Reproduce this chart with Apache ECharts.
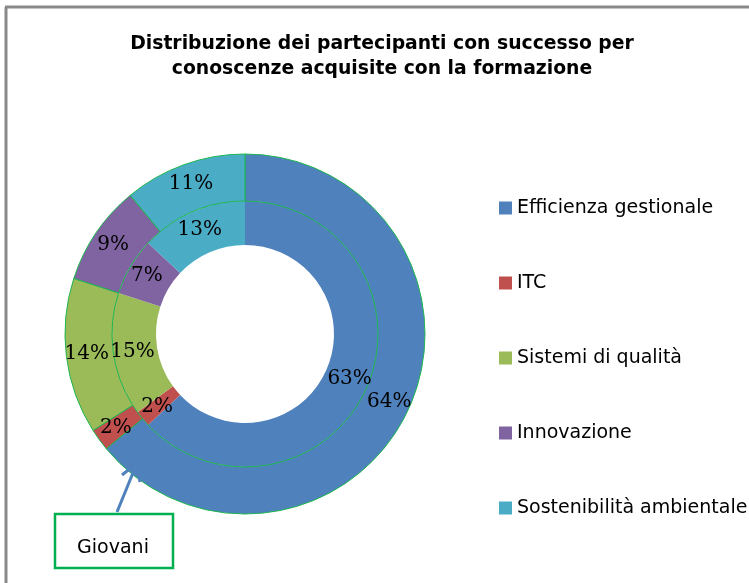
<!DOCTYPE html>
<html>
<head>
<meta charset="utf-8">
<script src="https://cdn.jsdelivr.net/npm/echarts@6/dist/echarts.min.js"></script>
<style>
html,body{margin:0;padding:0;background:#fff;}
#c{width:749px;height:583px;}
</style>
</head>
<body>
<div id="c"></div>
<script>
var categories = ['Efficienza gestionale', 'ITC', 'Sistemi di qualità', 'Innovazione', 'Sostenibilità ambientale'];
var innerValues = [63, 2, 15, 7, 13];
var outerValues = [64, 2, 14, 9, 11];
var colors = ['#4f81bd', '#c0504d', '#9bbb59', '#8064a2', '#4bacc6'];
var titleText = 'Distribuzione dei partecipanti con successo per\nconoscenze acquisite con la formazione';
var calloutText = 'Giovani';

function toData(vals) {
  return categories.map(function (c, i) { return { name: c, value: vals[i] }; });
}

var chart = echarts.init(document.getElementById('c'), null, { renderer: 'canvas' });
var labelStyle = {
  show: true,
  position: 'inside',
  formatter: '{c}%',
  color: '#000',
  fontFamily: 'DejaVu Serif',
  fontSize: 20
};
chart.setOption({
  animation: false,
  color: colors,
  title: {
    text: titleText,
    left: 377,
    top: 27,
    textAlign: 'center',
    textStyle: {
      fontFamily: 'DejaVu Sans',
      fontWeight: 'bold',
      fontSize: 18.8,
      lineHeight: 25,
      color: '#000'
    }
  },
  legend: {
    orient: 'vertical',
    left: 494,
    top: 193,
    itemWidth: 13,
    itemHeight: 13,
    itemGap: 55,
    icon: 'rect',
    data: categories,
    selectedMode: false,
    textStyle: {
      fontFamily: 'DejaVu Sans',
      fontSize: 19,
      lineHeight: 20,
      color: '#000'
    }
  },
  series: [
    {
      name: 'inner',
      type: 'pie',
      center: [245, 334],
      radius: [89, 133],
      startAngle: 90,
      clockwise: true,
      avoidLabelOverlap: false,
      silent: true,
      label: labelStyle,
      labelLine: { show: false },
      itemStyle: { borderWidth: 0 },
      emphasis: { disabled: true },
      data: toData(innerValues)
    },
    {
      name: 'outer',
      type: 'pie',
      center: [245, 334],
      radius: [133, 180],
      startAngle: 90,
      clockwise: true,
      avoidLabelOverlap: false,
      silent: true,
      label: labelStyle,
      labelLine: { show: false },
      itemStyle: { borderColor: '#1db550', borderWidth: 1 },
      emphasis: { disabled: true },
      data: toData(outerValues)
    }
  ],
  graphic: [
    { type: 'line', shape: { x1: 6, y1: 583, x2: 6, y2: 7 }, style: { stroke: '#8a8a8a', lineWidth: 3 } },
    { type: 'line', shape: { x1: 5, y1: 7, x2: 749, y2: 7 }, style: { stroke: '#8a8a8a', lineWidth: 3 } },
    { type: 'rect', shape: { x: 55, y: 514, width: 118, height: 54 }, style: { fill: '#fff', stroke: '#00b050', lineWidth: 2.5 }, z: 10 },
    { type: 'text', x: 113, y: 548, style: { text: calloutText, fontFamily: 'DejaVu Sans', fontSize: 19, fill: '#000', align: 'center', verticalAlign: 'middle' }, z: 11 },
    { type: 'polyline', shape: { points: [[117, 512], [137, 463]] }, style: { stroke: '#4f81bd', lineWidth: 3 }, z: 10 },
    { type: 'polyline', shape: { points: [[122, 475], [137, 463], [140, 482]] }, style: { stroke: '#4f81bd', lineWidth: 3, fill: null }, z: 10 }
  ]
});
</script>
</body>
</html>
